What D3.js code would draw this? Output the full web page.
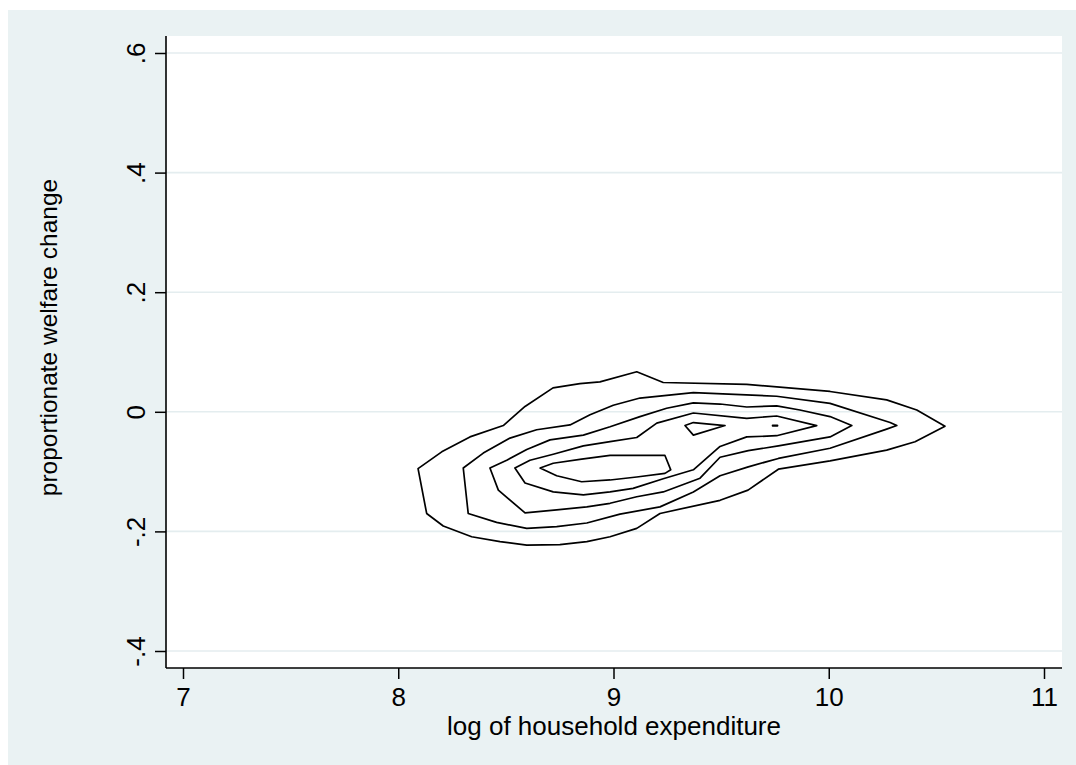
<!DOCTYPE html>
<html>
<head>
<meta charset="utf-8">
<script src="https://cdn.jsdelivr.net/npm/d3@7/dist/d3.min.js"></script>
<style>
  html, body { margin: 0; padding: 0; background: #ffffff; }
  svg { display: block; }
  text { font-family: "Liberation Sans", Arial, Helvetica, sans-serif; fill: #000; }
</style>
</head>
<body>
<svg id="chart" width="1076" height="765"></svg>
<script>
// Axis ticks and labels
const xTicks = [7, 8, 9, 10, 11];
const xTickLabels = ["7", "8", "9", "10", "11"];
const yTicks = [0.6, 0.4, 0.2, 0, -0.2, -0.4];
const yTickLabels = [".6", ".4", ".2", "0", "-.2", "-.4"];
const xTitle = "log of household expenditure";
const yTitle = "proportionate welfare change";

// Density contour levels, outermost first: [log expenditure, welfare change]
const level1 = [
  [8.092,-0.095],[8.202,-0.067],[8.333,-0.042],[8.488,-0.023],[8.589,0.009],[8.719,0.040],
  [8.844,0.047],[8.937,0.050],[9.108,0.067],[9.231,0.049],[9.619,0.046],[10.006,0.034],
  [10.269,0.020],[10.409,0.003],[10.540,-0.024],[10.401,-0.050],[10.269,-0.064],[10.006,-0.082],
  [9.766,-0.096],[9.625,-0.131],[9.495,-0.148],[9.216,-0.170],[9.108,-0.195],[8.984,-0.209],
  [8.876,-0.217],[8.751,-0.222],[8.597,-0.223],[8.473,-0.217],[8.341,-0.209],[8.209,-0.191],
  [8.132,-0.170]
];
const level2 = [
  [8.302,-0.094],[8.395,-0.069],[8.519,-0.044],[8.643,-0.030],[8.798,-0.022],[8.891,-0.005],
  [8.999,0.011],[9.123,0.023],[9.371,0.032],[9.758,0.026],[10.006,0.014],[10.285,-0.018],
  [10.316,-0.023],[10.269,-0.029],[10.006,-0.061],[9.766,-0.078],[9.626,-0.092],[9.495,-0.107],
  [9.371,-0.134],[9.216,-0.159],[9.030,-0.171],[8.876,-0.186],[8.736,-0.192],[8.597,-0.195],
  [8.457,-0.185],[8.325,-0.170]
];
const level3 = [
  [8.426,-0.094],[8.504,-0.081],[8.597,-0.063],[8.705,-0.047],[8.860,-0.039],[8.984,-0.025],
  [9.123,-0.008],[9.247,0.006],[9.371,0.015],[9.495,0.013],[9.619,0.008],[9.758,0.010],
  [9.866,0.003],[10.006,-0.008],[10.107,-0.023],[10.006,-0.042],[9.766,-0.057],[9.626,-0.065],
  [9.495,-0.076],[9.402,-0.111],[9.231,-0.134],[9.108,-0.142],[8.984,-0.153],[8.876,-0.159],
  [8.736,-0.164],[8.589,-0.169],[8.465,-0.131]
];
const level4 = [
  [8.542,-0.094],[8.612,-0.081],[8.720,-0.071],[8.860,-0.057],[8.984,-0.050],[9.108,-0.043],
  [9.201,-0.019],[9.371,-0.002],[9.619,-0.011],[9.758,-0.007],[9.944,-0.023],[9.758,-0.040],
  [9.619,-0.042],[9.495,-0.058],[9.371,-0.097],[9.231,-0.112],[9.091,-0.128],[8.984,-0.134],
  [8.860,-0.139],[8.720,-0.134],[8.589,-0.119]
];
const level5a = [
  [8.659,-0.094],[8.720,-0.086],[8.852,-0.079],[8.984,-0.073],[9.239,-0.073],[9.266,-0.097],
  [9.239,-0.103],[9.108,-0.109],[8.984,-0.114],[8.852,-0.117],[8.736,-0.107]
];
const level5b = [[9.332,-0.023],[9.371,-0.018],[9.518,-0.023],[9.371,-0.039]];
const level5c = [[9.739,-0.0225],[9.762,-0.0225],[9.762,-0.0235],[9.739,-0.0235]];

const contours = [level1, level2, level3, level4, level5a, level5b, level5c];

// Layout
const W = 1076, H = 765;
const plotLeft = 166, plotRight = 1062, plotTop = 36, plotBottom = 668;

const svg = d3.select("#chart");

// Graph region background
svg.append("rect")
  .attr("x", 8).attr("y", 10)
  .attr("width", W - 8).attr("height", H - 10)
  .attr("fill", "#eaf2f3");

// Plot region
svg.append("rect")
  .attr("x", plotLeft).attr("y", plotTop)
  .attr("width", plotRight - plotLeft).attr("height", plotBottom - plotTop)
  .attr("fill", "#ffffff");

const x = d3.scaleLinear().domain([7, 11]).range([183, 1044]);
const y = d3.scaleLinear().domain([-0.4, 0.6]).range([651, 53]);

// Horizontal grid lines
svg.append("g")
  .selectAll("line")
  .data(yTicks)
  .join("line")
  .attr("x1", plotLeft).attr("x2", plotRight)
  .attr("y1", d => y(d)).attr("y2", d => y(d))
  .attr("stroke", "#e4edef")
  .attr("stroke-width", 1.6);

// Contour lines
const line = d3.line()
  .x(d => x(d[0]))
  .y(d => y(d[1]))
  .curve(d3.curveLinearClosed);

svg.append("g")
  .selectAll("path")
  .data(contours)
  .join("path")
  .attr("d", line)
  .attr("fill", "none")
  .attr("stroke", "#000")
  .attr("stroke-width", 1.7)
  .attr("stroke-linejoin", "round");

// Y axis
const yAxis = d3.axisLeft(y)
  .tickValues(yTicks)
  .tickFormat((d, i) => yTickLabels[i])
  .tickSize(11)
  .tickSizeOuter(0);

const gy = svg.append("g")
  .attr("transform", `translate(${plotLeft},0)`)
  .call(yAxis);
gy.select(".domain").remove();
gy.selectAll(".tick line").attr("stroke", "#000").attr("stroke-width", 1.5);
gy.selectAll(".tick text")
  .attr("x", 0).attr("y", 0).attr("dy", null)
  .attr("transform", "translate(-21,0) rotate(-90)")
  .attr("text-anchor", "middle")
  .style("font-size", "26px")
  .style("font-family", "'Liberation Sans', Arial, sans-serif");

svg.append("line")
  .attr("x1", plotLeft).attr("x2", plotLeft)
  .attr("y1", plotTop).attr("y2", plotBottom)
  .attr("stroke", "#000").attr("stroke-width", 1.6);

// X axis
const xAxis = d3.axisBottom(x)
  .tickValues(xTicks)
  .tickFormat((d, i) => xTickLabels[i])
  .tickSize(11)
  .tickSizeOuter(0);

const gx = svg.append("g")
  .attr("transform", `translate(0,${plotBottom})`)
  .call(xAxis);
gx.select(".domain").remove();
gx.selectAll(".tick line").attr("stroke", "#000").attr("stroke-width", 1.5);
gx.selectAll(".tick text")
  .attr("y", 38).attr("dy", null)
  .style("font-size", "26px")
  .style("font-family", "'Liberation Sans', Arial, sans-serif");

svg.append("line")
  .attr("x1", plotLeft).attr("x2", plotRight)
  .attr("y1", plotBottom).attr("y2", plotBottom)
  .attr("stroke", "#000").attr("stroke-width", 1.6);

// Axis titles
svg.append("text")
  .attr("x", (plotLeft + plotRight) / 2)
  .attr("y", 735)
  .attr("text-anchor", "middle")
  .style("font-size", "26px")
  .text(xTitle);

svg.append("text")
  .attr("transform", `translate(57,${(182 + 493) / 2}) rotate(-90)`)
  .attr("text-anchor", "middle")
  .style("font-size", "24.5px")
  .text(yTitle);
</script>
</body>
</html>
